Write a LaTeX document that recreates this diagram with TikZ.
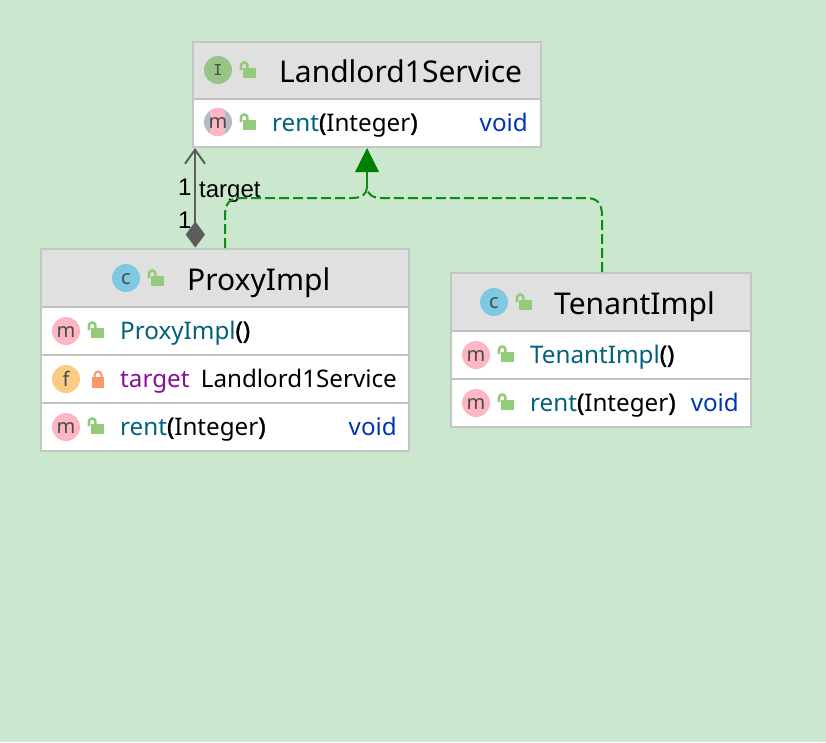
\documentclass[tikz,border=0pt]{standalone}
\usepackage{fontspec}
\setmainfont{Noto Sans}
\newfontfamily\labelfont{Liberation Sans}
\newfontfamily\iconfont{DejaVu Sans Mono}
\newfontfamily\parenfont[FakeBold=1.6]{Noto Sans}
\usetikzlibrary{arrows.meta}
\definecolor{bgc}{HTML}{CBE8CE}
\definecolor{borderc}{HTML}{BFC8C2}
\definecolor{rulec}{HTML}{C0C0C0}
\definecolor{headc}{HTML}{E0E0E0}
\definecolor{methodc}{HTML}{00627A}
\definecolor{fieldc}{HTML}{871094}
\definecolor{typec}{HTML}{0033B3}
\definecolor{pinkc}{HTML}{FDB6C4}
\definecolor{bluec}{HTML}{7FC8E2}
\definecolor{greenc}{HTML}{96C585}
\definecolor{orangec}{HTML}{FACB82}
\definecolor{lockc}{HTML}{93CB7A}
\definecolor{lockrc}{HTML}{F89868}
\definecolor{glyphc}{HTML}{4A4A4A}
\definecolor{greyc}{HTML}{5C5C5C}
\definecolor{dashc}{HTML}{0E8A16}
\definecolor{headgreen}{HTML}{008000}
\definecolor{ringc}{HTML}{B3BCC4}
\tikzset{
 x=1pt,y=-1pt,
 boxbody/.style={draw=none,fill=white,rectangle,inner sep=0pt,outer sep=0pt,anchor=north west},
 boxline/.style={draw=borderc,line width=2pt},
 headband/.style={fill=headc,draw=none},
 rulerow/.style={draw=rulec,line width=2pt},
 icon/.style={circle,minimum size=28pt,inner sep=0pt},
 glyph/.style={inner sep=0pt,text=glyphc,font=\fontsize{20}{20}\selectfont},
 titletext/.style={anchor=base west,inner sep=0pt,text=black,font=\fontsize{30}{30}\selectfont},
 rowtext/.style={anchor=base west,inner sep=0pt,font=\fontsize{24.2}{24.2}\selectfont},
 voidtext/.style={rowtext,anchor=base east,text=typec},
 edgelabel/.style={inner sep=0pt,anchor=base west,text=black,font=\labelfont\fontsize{24}{24}\selectfont},
 assoc/.style={draw=greyc,line width=2.4pt},
 realize/.style={draw=dashc,line width=2pt,dash pattern=on 10pt off 4pt},
 pics/openlock/.style={code={
   \fill[lockc] (-4.7,-2) rectangle (8,8);
   \draw[lockc,line width=2.6pt] (-7,0) -- (-7,-4.5) arc[start angle=180,end angle=0,x radius=3.2,y radius=-3] -- (-0.6,-2);
 }},
 pics/closedlock/.style={code={
   \fill[lockrc] (-6,-1) rectangle (6,10);
   \draw[lockrc,line width=2pt] (-3.5,-1) -- (-3.5,-3) arc[start angle=180,end angle=0,x radius=3.5,y radius=-3.5] -- (3.5,-1);
 }},
}
\newcommand{\parenrow}[1]{\textcolor{black}{{\parenfont(}#1{\parenfont)}}}
\begin{document}
\begin{tikzpicture}
\useasboundingbox (0,0) rectangle (826,742);
\fill[bgc] (0,0) rectangle (826,742);

% boxes
\node[boxbody,minimum width=348pt,minimum height=105pt] (land) at (193,41.5) {};
\node[boxbody,minimum width=368pt,minimum height=202pt] (proxy) at (41,249) {};
\node[boxbody,minimum width=300pt,minimum height=154pt] (tenant) at (451,273) {};

% header bands
\fill[headband] (193,41.5) rectangle (541,98);
\fill[headband] (41,249) rectangle (409,306);
\fill[headband] (451,273) rectangle (751,330);
\draw[rulerow] (193,99) -- (541,99);
\draw[rulerow] (41,307) -- (409,307);
\draw[rulerow] (41,355) -- (409,355);
\draw[rulerow] (41,403) -- (409,403);
\draw[rulerow] (451,331) -- (751,331);
\draw[rulerow] (451,379) -- (751,379);
\draw[boxline] (land.north west) rectangle (land.south east);
\draw[boxline] (proxy.north west) rectangle (proxy.south east);
\draw[boxline] (tenant.north west) rectangle (tenant.south east);

% Landlord1Service
\node[icon,fill=greenc] (i1) at (218,70) {};
\node[glyph,font=\iconfont\fontsize{15}{15}\selectfont] (i1g) at (218,70) {I};
\pic at (248,70) {openlock};
\node[titletext] (t1) at (279,82) {Landlord1Service};
\node[icon,fill=ringc] (i2) at (218,122) {};
\begin{scope}
\clip (218,122) circle[radius=14pt];
\fill[pinkc] (210,106) rectangle (225,138);
\end{scope}
\node[glyph] (i2g) at (218,123) {m};
\pic at (248,122) {openlock};
\node[rowtext,text=methodc] (r1) at (272,131) {rent\parenrow{Integer}};
\node[voidtext] (v1) at (528,131) {void};

% ProxyImpl
\node[icon,fill=bluec] (i3) at (126,278) {};
\node[glyph] (i3g) at (126,279) {c};
\pic at (156,278) {openlock};
\node[titletext] (t2) at (187,290) {ProxyImpl};
\node[icon,fill=pinkc] (i4) at (66,331) {};
\node[glyph] (i4g) at (66,332) {m};
\pic at (96,330) {openlock};
\node[rowtext,text=methodc] (r2) at (120,339) {ProxyImpl\parenrow{}};
\node[icon,fill=orangec] (i5) at (66,379) {};
\node[glyph] (i5g) at (66,379) {f};
\pic at (98,378) {closedlock};
\node[rowtext,text=fieldc] (r3) at (120,387) {target};
\node[voidtext,text=black] (v3) at (397,387) {Landlord1Service};
\node[icon,fill=pinkc] (i6) at (66,427) {};
\node[glyph] (i6g) at (66,428) {m};
\pic at (96,426) {openlock};
\node[rowtext,text=methodc] (r4) at (120,435) {rent\parenrow{Integer}};
\node[voidtext] (v4) at (397,435) {void};

% TenantImpl
\node[icon,fill=bluec] (i7) at (494,302) {};
\node[glyph] (i7g) at (494,303) {c};
\pic at (524,302) {openlock};
\node[titletext] (t3) at (554,314) {TenantImpl};
\node[icon,fill=pinkc] (i8) at (476,355) {};
\node[glyph] (i8g) at (476,356) {m};
\pic at (506,354) {openlock};
\node[rowtext,text=methodc] (r5) at (530,363) {TenantImpl\parenrow{}};
\node[icon,fill=pinkc] (i9) at (476,403) {};
\node[glyph] (i9g) at (476,404) {m};
\pic at (506,402) {openlock};
\node[rowtext,text=methodc] (r6) at (530,411) {rent\parenrow{Integer}};
\node[voidtext] (v6) at (739,411) {void};

% connector ends
\coordinate (aTop) at (195,148);
\coordinate (aBot) at (195,240);
\coordinate (head) at (367,172);
\coordinate (join) at (367,187);
\coordinate (pUp) at (225,248);
\coordinate (tUp) at (602,272);

% association
\draw[assoc,-{Straight Barb[length=14pt,width=20pt,line width=2pt]}] (aBot) -- (aTop);
\fill[greyc] (195.3,221.5) -- (205,234.5) -- (195.3,247.5) -- (185.6,234.5) -- cycle;
\node[edgelabel] (n1) at (178,195) {1};
\node[edgelabel] (n2) at (178,228) {1};
\node[edgelabel] (n3) at (199,197) {target};

% realization
\draw[realize] (pUp) -- (225,216) .. controls (225,204) and (229,198) .. (241,198) -- (352,198) .. controls (362,198) and (367,194) .. (join);
\draw[realize] (tUp) -- (602,216) .. controls (602,204) and (598,198) .. (586,198) -- (382,198) .. controls (372,198) and (367,194) .. (join);
\draw[draw=dashc,line width=2pt] (join) -- (head);
\fill[headgreen] (367,148) -- (379,172) -- (355,172) -- cycle;
\end{tikzpicture}
\end{document}
